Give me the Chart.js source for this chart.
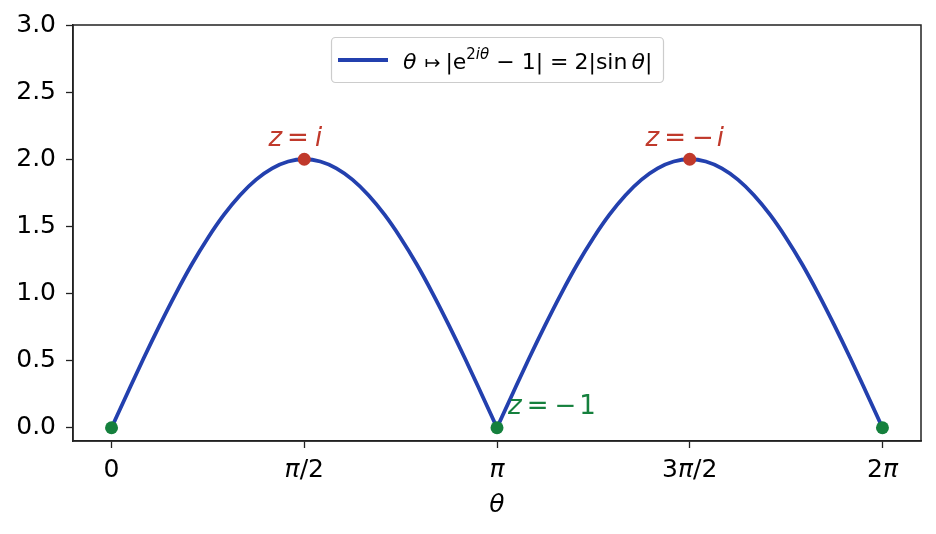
<!DOCTYPE html>
<html><head><meta charset="utf-8">
<script src="https://cdn.jsdelivr.net/npm/chart.js@4.4.0/dist/chart.umd.min.js"></script>
<style>html,body{margin:0;padding:0;background:#fff}#wrap{width:936px;height:534px}</style>
</head><body><div id="wrap"><canvas id="c"></canvas></div>
<script>
// theta in units of pi
const hump1Theta = [0,0.0417,0.0833,0.125,0.1667,0.2083,0.25,0.2917,0.3333,0.375,0.4167,0.4583,0.5,0.5417,0.5833,0.625,0.6667,0.7083,0.75,0.7917,0.8333,0.875,0.9167,0.9583,1];
const hump1Value = [0,0.261,0.518,0.765,1.0,1.218,1.414,1.587,1.732,1.848,1.932,1.983,2.0,1.983,1.932,1.848,1.732,1.587,1.414,1.218,1.0,0.765,0.518,0.261,0];
const hump2Theta = [1,1.0417,1.0833,1.125,1.1667,1.2083,1.25,1.2917,1.3333,1.375,1.4167,1.4583,1.5,1.5417,1.5833,1.625,1.6667,1.7083,1.75,1.7917,1.8333,1.875,1.9167,1.9583,2];
const hump2Value = [0,0.261,0.518,0.765,1.0,1.218,1.414,1.587,1.732,1.848,1.932,1.983,2.0,1.983,1.932,1.848,1.732,1.587,1.414,1.218,1.0,0.765,0.518,0.261,0];
const greenTheta = [0,1,2];
const greenValue = [0,0,0];
const redTheta = [0.5,1.5];
const redValue = [2,2];
const xTickValues = [0,0.5,1,1.5,2];
const xTickLabels = ['0','π/2','π','3π/2','2π'];
const yTickValues = [0,0.5,1,1.5,2,2.5,3];
// parts: [text, italic, gapBefore]
const annotations = [
  {x:0.5, y:2, parts:[['z',1,0],['=',0,5],['i',1,6]], color:'#c0392b', align:'center', dx:-9, dy:-13},
  {x:1.5, y:2, parts:[['z',1,0],['=',0,5],['\u2212',0,6],['i',1,3]], color:'#c0392b', align:'center', dx:-5, dy:-13},
  {x:1, y:0, parts:[['z',1,0],['=',0,5],['\u2212',0,6],['1',0,3]], color:'#15803d', align:'left', dx:11, dy:-14}
];

const BLUE = '#2340ae';
const FONT = "'DejaVu Sans'";

const xy = (xs, ys) => xs.map((x,i)=>({x:x, y:ys[i]}));

function drawParts(ctx, parts, x, y, size, align){
  const fonts = parts.map(p => (p[1] ? 'italic ' : '') + size + 'px ' + FONT);
  let w = 0;
  parts.forEach((p,i)=>{ ctx.font = fonts[i]; w += ctx.measureText(p[0]).width + (p[2]||0); });
  if (align === 'center') x -= w/2;
  parts.forEach((p,i)=>{ ctx.font = fonts[i]; x += (p[2]||0); ctx.fillText(p[0], x, y); x += ctx.measureText(p[0]).width; });
}

const overlay = {
  id:'overlay',
  afterDraw(chart){
    const ctx = chart.ctx, xs = chart.scales.x, ys = chart.scales.y;
    ctx.save();
    ctx.textBaseline = 'alphabetic';
    // x tick labels (pi italic as in math text)
    ctx.fillStyle = '#000';
    xTickValues.forEach((v,i)=>{
      const parts = Array.from(xTickLabels[i]).map(ch => [ch, ch === 'π' ? 1 : 0, 0]);
      drawParts(ctx, parts, xs.getPixelForValue(v), 477, 25, 'center');
    });
    // annotations
    for (const a of annotations){
      ctx.fillStyle = a.color;
      drawParts(ctx, a.parts, xs.getPixelForValue(a.x) + a.dx, ys.getPixelForValue(a.y) + a.dy, 26, a.align);
    }
    // legend
    const bx = 331, by = 37, bw = 332, bh = 45;
    ctx.fillStyle = 'rgba(255,255,255,0.8)';
    ctx.strokeStyle = '#cccccc';
    ctx.lineWidth = 1.2;
    ctx.beginPath();
    ctx.roundRect(bx+0.5, by+0.5, bw, bh, 4);
    ctx.fill(); ctx.stroke();
    ctx.strokeStyle = BLUE; ctx.lineWidth = 3.8;
    ctx.beginPath(); ctx.moveTo(338, 60); ctx.lineTo(388, 60); ctx.stroke();
    ctx.fillStyle = '#000';
    let x = 403; const base = 69;
    const R = 22, S = 15;
    const seg = (t, it, size, yOff, gap) => { x += gap||0; ctx.font = (it?'italic ':'') + size + 'px ' + FONT; ctx.fillText(t, x, base + (yOff||0)); x += ctx.measureText(t).width; };
    seg('θ',1,R,0,0); seg('↦',0,19,0,8); seg('|',0,R,0,5); seg('e',0,R,0,0);
    seg('2',0,S,-10,0); seg('iθ',1,S,-10,0);
    seg('−',0,R,0,7); seg('1',0,R,0,7); seg('|',0,R,0,0);
    seg('=',0,R,0,7); seg('2',0,R,0,6); seg('|',0,R,0,0); seg('sin',0,R,0,0);
    seg('θ',1,R,0,4); seg('|',0,R,0,0);
    ctx.restore();
  }
};

new Chart(document.getElementById('c'), {
  type:'scatter',
  data:{datasets:[
    {label:'hump1', data:xy(hump1Theta, hump1Value), showLine:true, borderColor:BLUE, borderWidth:3.8, pointRadius:0, cubicInterpolationMode:'monotone', order:3},
    {label:'hump2', data:xy(hump2Theta, hump2Value), showLine:true, borderColor:BLUE, borderWidth:3.8, pointRadius:0, cubicInterpolationMode:'monotone', order:3},
    {label:'green', data:xy(greenTheta, greenValue), backgroundColor:'#15803d', borderColor:'#15803d', pointRadius:6.5, borderWidth:0, order:1},
    {label:'red', data:xy(redTheta, redValue), backgroundColor:'#c0392b', borderColor:'#c0392b', pointRadius:6.5, borderWidth:0, order:1}
  ]},
  options:{
    responsive:true, maintainAspectRatio:false, animation:false,
    layout:{padding:{left:0, top:25, right:15, bottom:14}},
    plugins:{legend:{display:false}, tooltip:{enabled:false}},
    scales:{
      x:{type:'linear', min:-0.1, max:2.1,
        afterBuildTicks(s){ s.ticks = xTickValues.map(v=>({value:v})); },
        afterFit(s){ s.height = 79; },
        ticks:{display:false},
        grid:{drawOnChartArea:false, tickLength:7, tickColor:'#222', tickWidth:1.3},
        border:{color:'#222', width:1.5},
        title:{display:true, text:'θ', color:'#000', font:{family:FONT, size:25, style:'italic'}, padding:{top:0, bottom:0}}
      },
      y:{type:'linear', min:-0.0985, max:3,
        afterBuildTicks(s){ s.ticks = yTickValues.map(v=>({value:v})); },
        afterFit(s){ s.width = 73; },
        ticks:{color:'#000', font:{family:FONT, size:25}, padding:10, callback:(v)=>v.toFixed(1)},
        grid:{drawOnChartArea:false, tickLength:7, tickColor:'#222', tickWidth:1.3},
        border:{color:'#222', width:1.5}
      }
    }
  },
  plugins:[overlay, {id:'frame', afterDraw(chart){
    const a = chart.chartArea, ctx = chart.ctx;
    ctx.save(); ctx.strokeStyle = '#222'; ctx.lineWidth = 1.5;
    ctx.strokeRect(a.left, a.top, a.right-a.left, a.bottom-a.top); ctx.restore();
  }}]
});
</script></body></html>
